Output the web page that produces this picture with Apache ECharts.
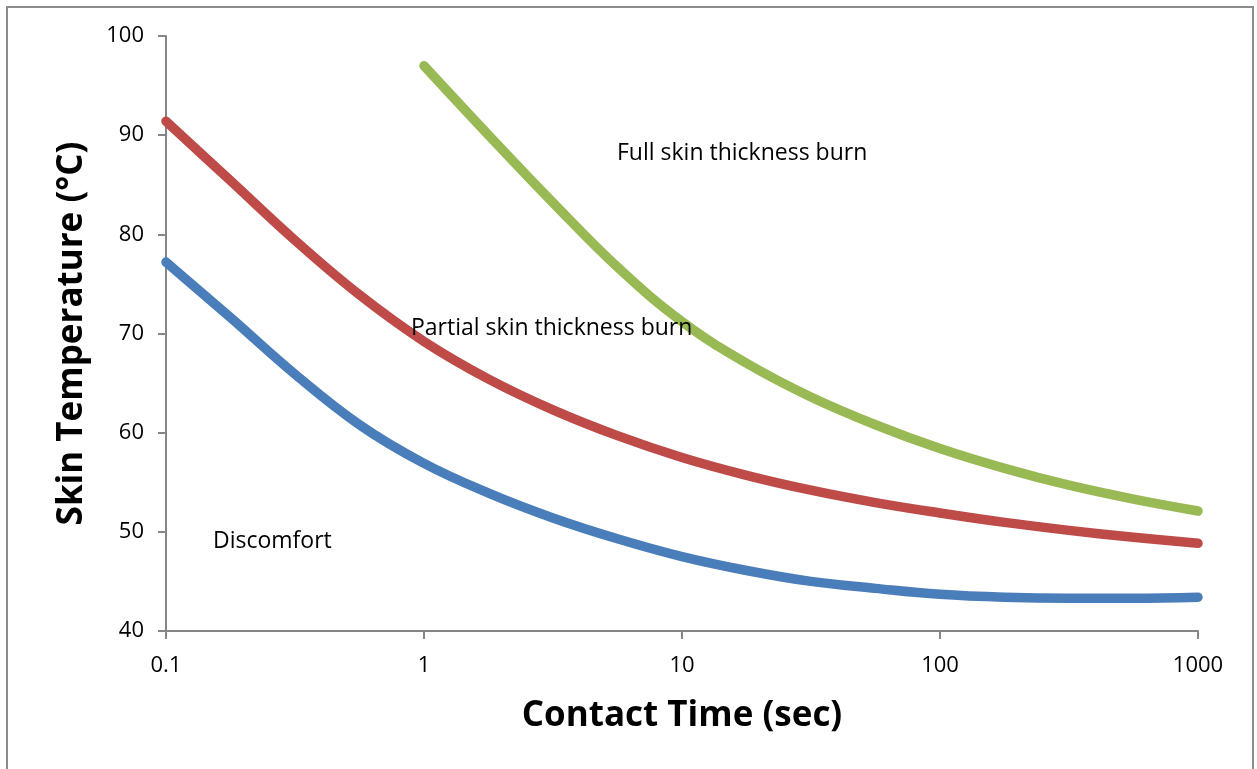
<!DOCTYPE html>
<html>
<head>
<meta charset="utf-8">
<script src="https://cdn.jsdelivr.net/npm/echarts@6/dist/echarts.min.js"></script>
<style>
html,body{margin:0;padding:0;background:#fff;}
#chart{width:1257px;height:769px;}
</style>
</head>
<body>
<div id="chart"></div>
<script>
const xTicks = [0.1, 1, 10, 100, 1000];
const yTicks = [40, 50, 60, 70, 80, 90, 100];

const sampleTime = [0.1, 0.178, 0.316, 0.562, 1, 1.78, 3.16, 5.62, 10, 17.8, 31.6, 56.2, 100, 178, 316, 562, 1000];

const discomfortTemp = [77.2, 71.6, 65.9, 60.8, 56.9, 53.9, 51.4, 49.3, 47.5, 46.1, 45.0, 44.3, 43.7, 43.4, 43.3, 43.3, 43.4];
const partialTemp    = [91.4, 85.4, 79.4, 73.9, 69.2, 65.4, 62.3, 59.7, 57.5, 55.7, 54.2, 52.95, 51.9, 50.95, 50.15, 49.45, 48.85];

const fullTime = [1, 1.78, 3.16, 5.62, 10, 17.8, 31.6, 56.2, 100, 178, 316, 562, 1000];
const fullTemp = [97.0, 90.0, 83.2, 76.7, 71.2, 67.0, 63.6, 60.8, 58.4, 56.4, 54.7, 53.3, 52.1];

const xTitle = 'Contact Time (sec)';
const yTitle = 'Skin Temperature (°C)';
const labels = ['Discomfort', 'Partial skin thickness burn', 'Full skin thickness burn'];

function pairs(xs, ys) { return xs.map((x, i) => [x, ys[i]]); }

const FONT = '"Open Sans", "Noto Sans", sans-serif';
const axisColor = '#868686';

const chart = echarts.init(document.getElementById('chart'), null, {renderer: 'canvas'});

function lineSeries(name, data, color) {
  return {
    name: name,
    type: 'line',
    data: data,
    smooth: 0.4,
    showSymbol: false,
    symbol: 'none',
    clip: true,
    lineStyle: {color: color, width: 9.5, cap: 'round', join: 'round'},
    itemStyle: {color: color},
    animation: false
  };
}

chart.setOption({
  animation: false,
  backgroundColor: '#ffffff',
  grid: {left: 166, right: 59, top: 36, bottom: 138, containLabel: false},
  xAxis: {
    type: 'log',
    logBase: 10,
    min: xTicks[0],
    max: xTicks[xTicks.length - 1],
    name: xTitle,
    nameLocation: 'middle',
    nameGap: 68,
    nameTextStyle: {fontFamily: FONT, fontSize: 35, fontWeight: 'bold', color: '#000'},
    axisLine: {show: true, lineStyle: {color: axisColor, width: 2}},
    axisTick: {show: true, inside: false, length: 8, lineStyle: {color: axisColor, width: 2}},
    minorTick: {show: false},
    splitLine: {show: false},
    axisLabel: {
      margin: 24,
      fontFamily: FONT, fontSize: 22, color: '#000',
      formatter: function (v) { return String(+v.toPrecision(6)); }
    }
  },
  yAxis: {
    type: 'value',
    min: yTicks[0],
    max: yTicks[yTicks.length - 1],
    interval: 10,
    name: yTitle,
    nameLocation: 'middle',
    nameGap: 76,
    nameTextStyle: {fontFamily: FONT, fontSize: 35, fontWeight: 'bold', color: '#000'},
    axisLine: {show: true, lineStyle: {color: axisColor, width: 2}},
    axisTick: {show: true, inside: false, length: 8, lineStyle: {color: axisColor, width: 2}},
    splitLine: {show: false},
    axisLabel: {margin: 22, fontFamily: FONT, fontSize: 22, color: '#000'}
  },
  series: [
    lineSeries('Discomfort', pairs(sampleTime, discomfortTemp), '#4A7EBB'),
    lineSeries('Partial', pairs(sampleTime, partialTemp), '#BE4B48'),
    lineSeries('Full', pairs(fullTime, fullTemp), '#98B954')
  ],
  graphic: [
    {type: 'rect', silent: true, z: -1,
     shape: {x: 7, y: 7, width: 1246, height: 800},
     style: {fill: 'none', stroke: '#8c8c8c', lineWidth: 2}},
    {type: 'text', x: 213, y: 541, z: 10,
     style: {text: labels[0], fontFamily: FONT, fontSize: 23, fill: '#000', align: 'left', verticalAlign: 'middle'}},
    {type: 'text', x: 411, y: 328, z: 10,
     style: {text: labels[1], fontFamily: FONT, fontSize: 23, fill: '#000', align: 'left', verticalAlign: 'middle'}},
    {type: 'text', x: 617, y: 153, z: 10,
     style: {text: labels[2], fontFamily: FONT, fontSize: 23, fill: '#000', align: 'left', verticalAlign: 'middle'}}
  ]
});
</script>
</body>
</html>
